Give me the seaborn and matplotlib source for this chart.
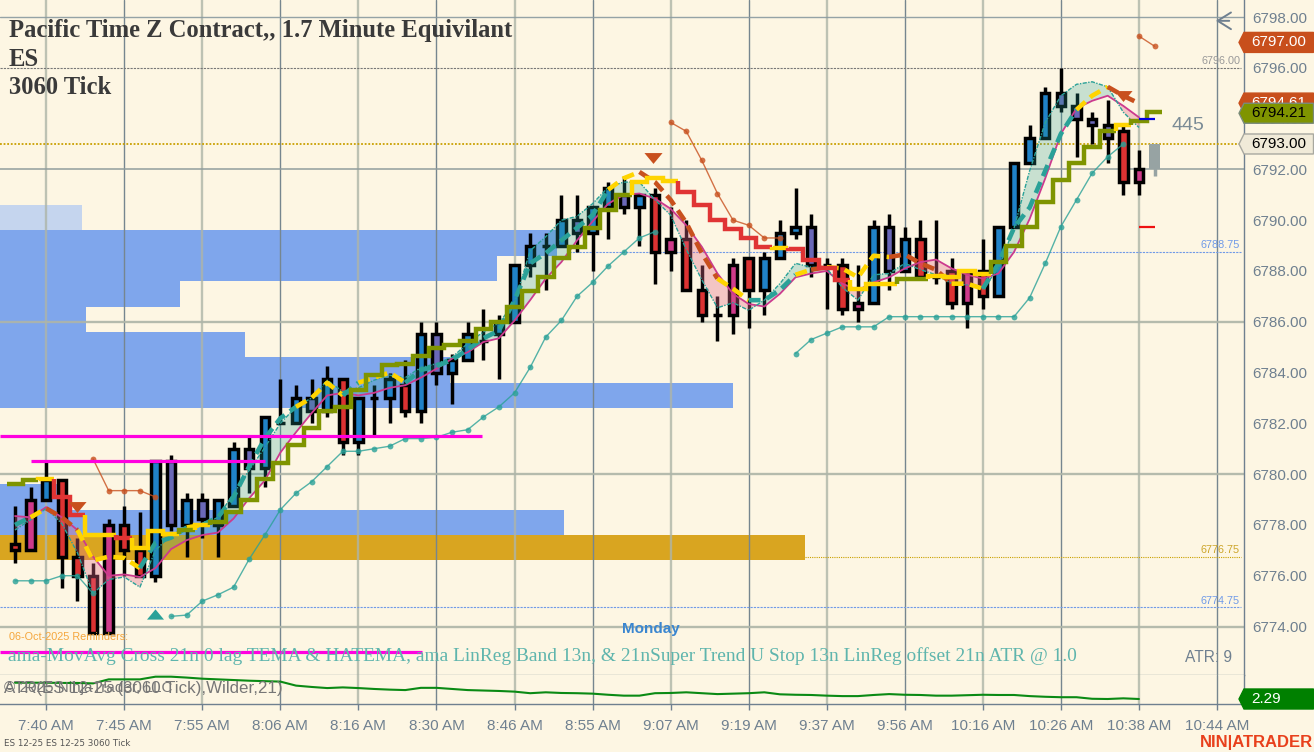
import matplotlib
matplotlib.use('Agg')
import matplotlib.pyplot as plt
from matplotlib.patches import Polygon
import seaborn as sns
import numpy as np

W, H = 1314, 752
BG = '#fdf6e3'
AXIS_GREY = '#6f8090'

# candles: high, body top, body bottom, low, colour code
highs = [6778.75, 6779.5, 6780.5, 6779.75, 6777.5, 6776.5, 6778.25, 6778.75, 6778.5, 6780.5,
         6780.75, 6779.25, 6779.25, 6779.0, 6781.25, 6781.5, 6782.25, 6783.75, 6783.5, 6783.75,
         6784.25, 6783.75, 6783.0, 6783.5, 6784.0, 6784.5, 6786.0, 6786.0, 6784.75, 6786.0,
         6786.5, 6786.25, 6788.25, 6789.5, 6789.5, 6791.0, 6791.0, 6790.5, 6791.5, 6791.75,
         6791.0, 6791.25, 6790.5, 6790.0, 6788.25, 6787.0, 6788.5, 6788.5, 6788.75, 6790.0,
         6791.25, 6790.25, 6788.5, 6788.5, 6788.25, 6790.0, 6790.25, 6789.75, 6790.0, 6790.0,
         6788.5, 6788.0, 6789.25, 6789.75, 6792.25, 6793.75, 6795.25, 6796.0, 6795.0, 6794.25,
         6794.75, 6793.75, 6792.75]
tops = [6777.25, 6779.0, 6779.75, 6779.75, 6776.75, 6776.0, 6778.0, 6778.0, 6777.0, 6780.5,
        6780.5, 6779.0, 6779.0, 6779.0, 6781.0, 6781.0, 6782.25, 6782.0, 6783.0, 6783.0,
        6783.75, 6783.75, 6783.0, 6783.0, 6783.75, 6783.5, 6785.5, 6785.5, 6784.5, 6785.5,
        6785.25, 6786.0, 6788.25, 6789.0, 6789.0, 6790.0, 6790.0, 6790.5, 6791.25, 6791.0,
        6791.0, 6791.0, 6789.25, 6789.25, 6787.25, 6786.25, 6788.25, 6788.5, 6788.5, 6789.5,
        6789.75, 6789.75, 6788.25, 6788.25, 6786.75, 6789.75, 6789.75, 6789.25, 6789.25, 6787.75,
        6788.0, 6788.0, 6788.0, 6789.75, 6792.25, 6793.25, 6795.0, 6795.0, 6794.5, 6794.0,
        6793.75, 6793.5, 6792.0]
bottoms = [6777.0, 6777.0, 6779.0, 6776.75, 6776.0, 6773.75, 6773.75, 6777.0, 6776.0, 6776.0,
           6778.0, 6778.0, 6778.25, 6778.0, 6778.75, 6780.25, 6780.25, 6782.0, 6782.0, 6782.5,
           6782.5, 6781.25, 6781.25, 6783.0, 6783.0, 6782.5, 6782.5, 6784.0, 6784.0, 6784.5,
           6785.25, 6785.5, 6786.0, 6788.25, 6789.0, 6789.0, 6789.5, 6789.5, 6790.5, 6790.5,
           6790.5, 6788.75, 6788.75, 6787.25, 6786.25, 6786.25, 6786.25, 6787.25, 6787.25, 6788.5,
           6789.5, 6788.25, 6788.25, 6786.5, 6786.5, 6786.75, 6788.0, 6788.0, 6787.75, 6787.75,
           6786.75, 6786.75, 6787.0, 6787.0, 6789.75, 6792.25, 6793.25, 6794.5, 6794.0, 6793.75,
           6793.25, 6791.5, 6791.5]
lows = [6776.5, 6777.0, 6779.0, 6775.5, 6775.0, 6773.75, 6773.75, 6776.0, 6776.0, 6775.75,
        6777.75, 6776.75, 6777.5, 6776.75, 6778.75, 6779.25, 6779.5, 6782.0, 6782.0, 6782.0,
        6782.25, 6780.75, 6780.75, 6781.5, 6782.0, 6782.25, 6782.0, 6783.5, 6782.75, 6784.5,
        6784.5, 6783.75, 6786.0, 6787.75, 6787.25, 6789.0, 6788.75, 6788.0, 6789.25, 6790.25,
        6789.0, 6787.5, 6788.0, 6787.25, 6786.0, 6785.25, 6785.5, 6785.75, 6786.25, 6788.5,
        6789.25, 6787.75, 6786.5, 6786.25, 6786.0, 6786.75, 6787.25, 6788.0, 6787.75, 6787.5,
        6786.5, 6785.75, 6786.5, 6787.0, 6789.75, 6792.25, 6793.25, 6794.25, 6792.5, 6793.0,
        6792.25, 6791.0, 6791.0]
kinds = ('rmbrrrmrrb' 'pbpbbpbbbp' 'brbbbrbpbb' 'bbbbbbpbbp'
         'brmrrrmrbb' 'bpbrmbpbrb' 'rmrbbbbppp' 'prm')
kind_colors = {'b': '#2082c8', 'r': '#dc3232', 'm': '#cf3a8a', 'p': '#6a68b8'}

# forming bar on the right
last_high, last_top, last_bottom, last_low = 6793.0, 6793.0, 6792.0, 6791.75

# thin magenta line
slow = [6778.35, 6778.3, 6778.7, 6778.3, 6777.8, 6776.75, 6776.0, 6776.05, 6775.95, 6776.3,
        6777.05, 6777.4, 6777.6, 6777.7, 6778.25, 6779.05, 6779.75, 6780.85, 6781.65, 6782.4,
        6783.1, 6783.2, 6783.1, 6783.2, 6783.4, 6783.5, 6783.8, 6784.15, 6784.55, 6784.8,
        6785.2, 6785.35, 6786.05, 6786.85, 6787.7, 6788.35, 6789.2, 6789.95, 6790.65, 6791.0,
        6791.05, 6790.85, 6790.45, 6789.8, 6788.95, 6787.9, 6787.1, 6786.7, 6786.6, 6787.1,
        6787.75, 6787.9, 6788.0, 6787.5, 6787.25, 6787.55, 6787.75, 6788.1, 6788.35, 6788.45,
        6788.1, 6787.85, 6787.7, 6787.9, 6788.75, 6790.05, 6791.65, 6793.4, 6794.4, 6794.7,
        6794.9, 6794.5, 6794.05]
# thin dash-dot teal line
fast = [6777.8, 6778.2, 6778.65, 6778.05, 6776.9, 6775.3, 6775.85, 6775.95, 6775.55, 6777.0,
        6777.6, 6777.9, 6778.0, 6778.3, 6779.25, 6780.15, 6781.05, 6782.0, 6782.65, 6783.0,
        6783.7, 6783.25, 6783.4, 6783.7, 6783.9, 6783.8, 6784.2, 6784.35, 6784.6, 6785.15,
        6785.6, 6785.95, 6786.75, 6788.8, 6789.35, 6790.0, 6790.15, 6790.65, 6791.3, 6791.5,
        6791.5, 6790.8, 6790.2, 6788.85, 6787.65, 6786.55, 6786.75, 6786.45, 6786.85, 6787.5,
        6788.3, 6788.15, 6788.1, 6787.35, 6786.85, 6787.85, 6787.9, 6788.3, 6788.05, 6787.85,
        6787.5, 6787.45, 6787.3, 6788.1, 6789.7, 6791.95, 6793.85, 6794.9, 6795.35, 6795.45,
        6795.25, 6794.25, 6793.65]
# thick dashed line
tema = [6778.0, 6778.3, 6778.65, 6778.3, 6777.8, 6776.6, 6776.75, 6776.7, 6776.3, 6777.3,
        6777.5, 6777.9, 6778.0, 6778.3, 6779.1, 6780.3, 6781.4, 6782.2, 6782.65, 6783.0,
        6783.6, 6783.1, 6783.6, 6783.8, 6784.0, 6783.6, 6784.1, 6784.25, 6784.5, 6784.9,
        6785.35, 6785.65, 6786.85, 6788.3, 6788.7, 6789.2, 6789.7, 6790.2, 6791.2, 6791.65,
        6791.9, 6791.5, 6790.8, 6789.9, 6788.7, 6787.7, 6787.3, 6786.85, 6786.85, 6787.25,
        6787.85, 6788.05, 6788.15, 6788.1, 6787.75, 6788.6, 6788.55, 6788.65, 6788.3, 6788.05,
        6787.5, 6787.5, 6787.3, 6788.3, 6789.7, 6790.5, 6791.95, 6793.4, 6794.35, 6794.9,
        6795.25, 6794.9, 6794.6]
tema_codes = ('ttyooyyyyt' 'ttytttttty' 'yytyyytttt' 'ttttttttty'
              'yoooooyytt' 'tyoyyyyooo' 'oyyttttttyyoo')
tema_colors = {'t': '#2aa198', 'y': '#ffd400', 'o': '#c8501e'}

# stepped stop line
stop = [6779.6, 6779.75, 6779.8, 6779.1, 6778.4, 6777.6, 6777.6, 6777.5, 6777.1, 6777.75,
        6777.65, 6777.8, 6778.0, 6778.1, 6778.5, 6779.0, 6779.8, 6780.45, 6781.15, 6781.8,
        6782.5, 6782.65, 6783.3, 6783.9, 6784.3, 6784.35, 6784.65, 6784.95, 6785.1, 6785.25,
        6785.7, 6786.0, 6786.6, 6787.2, 6787.75, 6788.5, 6788.95, 6789.7, 6790.4, 6791.0,
        6791.5, 6791.65, 6791.55, 6791.1, 6790.6, 6790.0, 6789.65, 6789.3, 6788.95, 6788.9,
        6788.85, 6788.45, 6788.1, 6787.65, 6787.3, 6787.5, 6787.5, 6787.7, 6787.7, 6787.8,
        6787.75, 6788.0, 6787.9, 6788.35, 6789.0, 6789.75, 6790.7, 6791.6, 6792.25, 6792.9,
        6793.5, 6793.75, 6793.9, 6794.25]
stop_codes = ('ooyrryyryy' 'yoyooooooo' 'oooooooooo' 'oooooooooo' 'yyyrrrrrry' 'rrrryyyooy'
              'yyyooooooo' 'oyoo')
stop_colors = {'o': '#7f9400', 'y': '#ffd400', 'r': '#e03434'}

# dotted trailing lines: first bar index, then values
teal_dots = [(0, [6775.8, 6775.8, 6775.8, 6776.0, 6776.0, 6775.3]),
             (10, [6774.4, 6774.45, 6775.0, 6775.25, 6775.55, 6776.65, 6777.6, 6778.6, 6779.25, 6779.7,
                   6780.3, 6780.9, 6780.9, 6781.0, 6781.1, 6781.4, 6781.4, 6781.45, 6781.65, 6781.75,
                   6782.25, 6782.65, 6783.2, 6784.2, 6785.4, 6786.05, 6787.0, 6787.55, 6788.2, 6788.75,
                   6789.3, 6789.55]),
             (50, [6784.75, 6785.3, 6785.55, 6785.8, 6785.8, 6785.8, 6786.2, 6786.2, 6786.2, 6786.2,
                   6786.2, 6786.2, 6786.2, 6786.2, 6786.2, 6786.95, 6788.3, 6789.75, 6790.8, 6791.85,
                   6792.5, 6793.0])]
orange_dots = [(5, [6780.6, 6779.35, 6779.35, 6779.35, 6779.1]),
               (42, [6793.85, 6793.5, 6792.35, 6791.05, 6790.0, 6789.8, 6789.3, 6789.3]),
               (72, [6797.25, 6796.85])]

# zones: bottom price, right edge in bars, one point high
zone_blue_bottoms = [6788.6, 6787.6, 6786.6, 6785.6, 6784.6, 6783.6, 6782.6, 6778.6, 6777.6]
zone_blue_rights = [34.7, 30.9, 10.57, 4.55, 14.73, 27.87, 46.0, 3.4, 35.2]
zone_pale = (6789.6, 4.29)
zone_gold = (6776.6, 50.6)

magenta_levels = [(6781.5, -0.96, 29.9), (6780.5, 1.0, 16.0), (6773.0, -0.96, 26.1)]

atr = [2.655, 2.655, 2.655, 2.65, 2.65, 2.64, 2.73, 2.73, 2.73, 2.79,
       2.79, 2.77, 2.745, 2.73, 2.715, 2.70, 2.69, 2.68, 2.59, 2.56,
       2.535, 2.55, 2.535, 2.515, 2.50, 2.49, 2.54, 2.54, 2.515, 2.49,
       2.48, 2.47, 2.455, 2.42, 2.44, 2.425, 2.42, 2.41, 2.385, 2.365,
       2.365, 2.42, 2.425, 2.44, 2.42, 2.40, 2.41, 2.42, 2.44, 2.395,
       2.385, 2.38, 2.365, 2.355, 2.355, 2.38, 2.40, 2.385, 2.38, 2.365,
       2.365, 2.375, 2.385, 2.38, 2.38, 2.355, 2.34, 2.33, 2.33, 2.295,
       2.29, 2.305, 2.29]

time_labels = ['7:40 AM', '7:45 AM', '7:55 AM', '8:06 AM', '8:16 AM', '8:30 AM', '8:46 AM', '8:55 AM',
               '9:07 AM', '9:19 AM', '9:37 AM', '9:56 AM', '10:16 AM', '10:26 AM', '10:38 AM', '10:44 AM']
price_ticks = list(range(6774, 6800, 2))


def runs(codes):
    out = []
    start = 0
    for k in range(1, len(codes) + 1):
        if k == len(codes) or codes[k] != codes[start]:
            out.append((start, k - 1, codes[start]))
            start = k
    return out


sns.set_theme(style='white', rc={'axes.facecolor': BG, 'figure.facecolor': BG, 'savefig.facecolor': BG})
plt.rcParams['font.family'] = ['Liberation Sans', 'DejaVu Sans']

fig = plt.figure(figsize=(W / 100, H / 100), dpi=100)
right = 1244 / W
ax = fig.add_axes([0, 1 - 674.5 / H, right, 674.5 / H])
ax2 = fig.add_axes([0, 1 - 704 / H, right, 29.5 / H], sharex=ax)

x0, x1 = -0.961, 78.73
ax.set_xlim(x0, x1)
ax.set_ylim(6772.11, 6798.67)
ax2.set_ylim(2.178, 2.839)

bars = np.arange(len(highs))

# zones
ax.barh(zone_blue_bottoms, [r - x0 for r in zone_blue_rights], height=1.0, left=x0, align='edge',
        color='#7fa6ec', linewidth=0, zorder=1)
ax.barh([zone_pale[0]], [zone_pale[1] - x0], height=1.0, left=x0, align='edge', color='#c5d5ee', linewidth=0, zorder=1)
ax.barh([zone_gold[0]], [zone_gold[1] - x0], height=1.0, left=x0, align='edge', color='#d9a520', linewidth=0, zorder=1)

# grid
grid_bars = np.arange(2, 78, 5)
for a in (ax, ax2):
    for n, g in enumerate(grid_bars):
        if n % 2 == 0:
            a.axvline(g, color='#aeb5a8', lw=1.7, alpha=0.8, zorder=1.5)
        else:
            a.axvline(g, color='#76868f', lw=1.0, zorder=1.5)
for lev, col, lw in [(6798, '#8a9aa0', 1.0), (6792, '#8f9c9c', 1.2), (6786, '#aeb5a8', 1.7),
                     (6780, '#aeb5a8', 1.7), (6774, '#aeb5a8', 1.7)]:
    ax.axhline(lev, color=col, lw=lw, alpha=0.9, zorder=1.5)

# drawn levels
ax.hlines(6796, x0, x1 - 0.2, color='#777777', lw=0.8, linestyles=(0, (2, 1)), zorder=2)
ax.hlines(6793, x0, x1, color='#c9a000', lw=1.3, linestyles=(0, (1, 1)), zorder=2)
ax.hlines(6788.75, 35.5, x1 - 0.2, color='#6f9ae8', lw=0.8, linestyles=(0, (2, 1)), zorder=2)
ax.hlines(6776.75, 50.6, x1 - 0.2, color='#c9a000', lw=0.8, linestyles=(0, (1, 1)), zorder=2)
ax.hlines(6774.75, x0, x1 - 0.2, color='#6f9ae8', lw=0.8, linestyles=(0, (2, 1)), zorder=2)

# candles
ax.vlines(bars, lows, highs, color='black', lw=2.5, zorder=3)
ax.bar(bars, np.array(tops) - np.array(bottoms), bottom=bottoms, width=0.54,
       color=[kind_colors[k] for k in kinds], edgecolor='black', linewidth=2.5, zorder=4)
ax.vlines(73, last_low, last_high, color='#97a3a3', lw=2.5, zorder=3)
ax.bar([73], [last_top - last_bottom], bottom=last_bottom, width=0.68, color='#97a3a3', linewidth=0, zorder=4)

# bands
fast_arr, slow_arr = np.array(fast), np.array(slow)
ax.fill_between(bars, fast_arr, slow_arr, where=fast_arr >= slow_arr, interpolate=True,
                color='#2aa198', alpha=0.25, linewidth=0, zorder=5)
ax.fill_between(bars, fast_arr, slow_arr, where=fast_arr < slow_arr, interpolate=True,
                color='#e26a8a', alpha=0.35, linewidth=0, zorder=5)

sns.lineplot(x=bars, y=slow, color='#cc3a8e', lw=1.3, ax=ax, zorder=6)
sns.lineplot(x=bars, y=fast, color='#2aa198', lw=1.0, linestyle=(0, (3, 1, 1, 1)), ax=ax, zorder=6)

for first, vals in teal_dots:
    sns.lineplot(x=np.arange(first, first + len(vals)), y=vals, color='#2aa198', lw=1.0, alpha=0.8, marker='o',
                 markersize=4.2, markeredgewidth=0, ax=ax, zorder=6)
for first, vals in orange_dots:
    sns.lineplot(x=np.arange(first, first + len(vals)), y=vals, color='#c8501e', lw=1.0, alpha=0.8, marker='o',
                 markersize=4.2, markeredgewidth=0, ax=ax, zorder=6)

# thick dashed, colour changes along it
for a, b, c in runs(tema_codes):
    start = max(a - 1, 0)
    sns.lineplot(x=bars[start:b + 1], y=tema[start:b + 1], color=tema_colors[c], lw=3.3,
                 linestyle=(0, (2.6, 1.4)), ax=ax, zorder=7)

# stop line, colour changes along it
for a, b, c in runs(stop_codes):
    xs, ys = [], []
    if a > 0:
        xs.append(a - 0.5)
        ys.append(stop[a - 1])
    for i in range(a, b + 1):
        xs += [i - 0.5, i + 0.5]
        ys += [stop[i], stop[i]]
    sns.lineplot(x=xs, y=ys, sort=False, estimator=None, color=stop_colors[c], lw=3.2,
                 solid_joinstyle='miter', solid_capstyle='butt', ax=ax, zorder=8)

# magenta levels
for lev, a, b in magenta_levels:
    ax.hlines(lev, a, b, color='#ff00e0', lw=2.3, zorder=9)

# short dashes at last bars
ax.hlines(6794.0, 72, 73, color='#0000e0', lw=1.6, zorder=9)
ax.hlines(6789.75, 72, 73, color='#ee1111', lw=1.6, zorder=9)

# triangles
tri_down = [(-1, 0.6), (1, 0.6), (0, -0.6)]
tri_up = [(-1, -0.6), (1, -0.6), (0, 0.6)]
sns.scatterplot(x=[4, 40.9, 71], y=[6778.7, 6792.45, 6794.9], color='#c8501e', marker=tri_down, s=170,
                linewidth=0, ax=ax, zorder=9)
sns.scatterplot(x=[9], y=[6774.5], color='#2aa198', marker=tri_up, s=150, linewidth=0, ax=ax, zorder=9)

# ATR panel
sns.lineplot(x=bars, y=atr, color='#0a8a14', lw=1.5, ax=ax2, zorder=5)

# axes cosmetics
ax.set_yticks(price_ticks)
ax.set_yticklabels(['%.2f' % p for p in price_ticks], color=AXIS_GREY, fontsize=11)
ax.yaxis.tick_right()
ax.tick_params(axis='y', length=4, width=1, color=AXIS_GREY, pad=2, right=True)
ax.tick_params(axis='x', bottom=False, labelbottom=False)
ax2.set_yticks([])
ax2.set_xticks(grid_bars)
ax2.set_xticklabels(time_labels, color=AXIS_GREY, fontsize=11)
ax2.tick_params(axis='x', length=4, width=1, color=AXIS_GREY, pad=7, bottom=True)
for a in (ax, ax2):
    sns.despine(ax=a, left=True, top=True, right=False, bottom=False)
    for side in ('right', 'bottom'):
        a.spines[side].set_color(AXIS_GREY)
        a.spines[side].set_linewidth(1.0)
ax.spines['bottom'].set_color('#9aa6a6')
ax.set_xlabel('')
ax2.set_xlabel('')


def put(x, y, s, **kw):
    kw.setdefault('va', 'center')
    return fig.text(x / W, 1 - y / H, s, **kw)


def tag(a, value, label, face, edge, color, z):
    yy = a.transData.transform((0, value))[1]
    left = 1239
    body = 1244
    pts = [(left, yy), (body, yy + 10), (1313.5, yy + 10), (1313.5, yy - 10), (body, yy - 10)]
    fig.add_artist(Polygon(pts, closed=True, transform=None, facecolor=face, edgecolor=edge, lw=1.0, zorder=z))
    fig.text(1251 / W, yy / H, label, color=color, fontsize=11, va='center', zorder=z + 1)


tag(ax, 6797.0, '6797.00', '#c84f1c', '#c84f1c', 'white', 20)
tag(ax, 6794.61, '6794.61', '#c84f1c', '#c84f1c', 'white', 22)
tag(ax, 6794.21, '6794.21', '#7f9400', '#7a8b7a', 'black', 24)
tag(ax, 6793.0, '6793.00', '#f0ead8', '#a8a8a0', 'black', 26)
tag(ax2, 2.29, '2.29', '#008000', '#008000', 'white', 20)

# titles
for y, s in [(31, 'Pacific Time Z Contract,, 1.7 Minute Equivilant'), (59, 'ES'), (87, '3060 Tick')]:
    put(9, y, s, family='Liberation Serif', weight='bold', fontsize=17.7, color='#3a3a3a', zorder=15)

# level labels
for y, s, c in [(61.5, '6796.00', '#999999'), (245.5, '6788.75', '#6f9ae8'), (550, '6776.75', '#cda52a'),
                (600.5, '6774.75', '#6f9ae8')]:
    put(1240, y, s, ha='right', fontsize=7.8, color=c, zorder=15)

put(1172, 125, '445', fontsize=14, color='#7a8b96', zorder=15)
put(651, 629, 'Monday', ha='center', weight='bold', fontsize=11, color='#3a86d0', zorder=15)
put(9, 637, '06-Oct-2025 Reminders:', fontsize=7.8, color='#f5a63c', zorder=15)
put(8, 656, 'ama-MovAvg Cross 21n 0 lag TEMA & HATEMA, ama LinReg Band 13n, & 21nSuper Trend U Stop 13n LinReg offset 21n ATR @ 1.0',
    family='Liberation Serif', fontsize=13.92, color='#5fb5ad', zorder=15)
put(1185, 657, 'ATR: 9', fontsize=11.2, color=AXIS_GREY, zorder=15)
put(4, 688, '\u00a9 2025 NinjaTrader, LLC', fontsize=11, color='#777777', zorder=15)
put(4, 688, 'ATR(ES 12-25 (3060 Tick),Wilder,21)', fontsize=12.2, color='#777777', zorder=15)
put(4, 743, 'ES 12-25 ES 12-25 3060 Tick', family='DejaVu Sans', fontsize=6.3, color='#555555', zorder=15)
put(1313, 742, 'NIN|ATRADER', ha='right', weight='bold', fontsize=12, color='#e8401c', zorder=15)

# back arrow
ax.annotate('', xy=((1213 - 15) / 15.61, 6797.85), xytext=((1232 - 15) / 15.61, 6797.85),
            arrowprops=dict(arrowstyle='->,head_length=0.8,head_width=0.5', color=AXIS_GREY, lw=1.4), zorder=15)

fig.savefig('out.png', dpi=100)
